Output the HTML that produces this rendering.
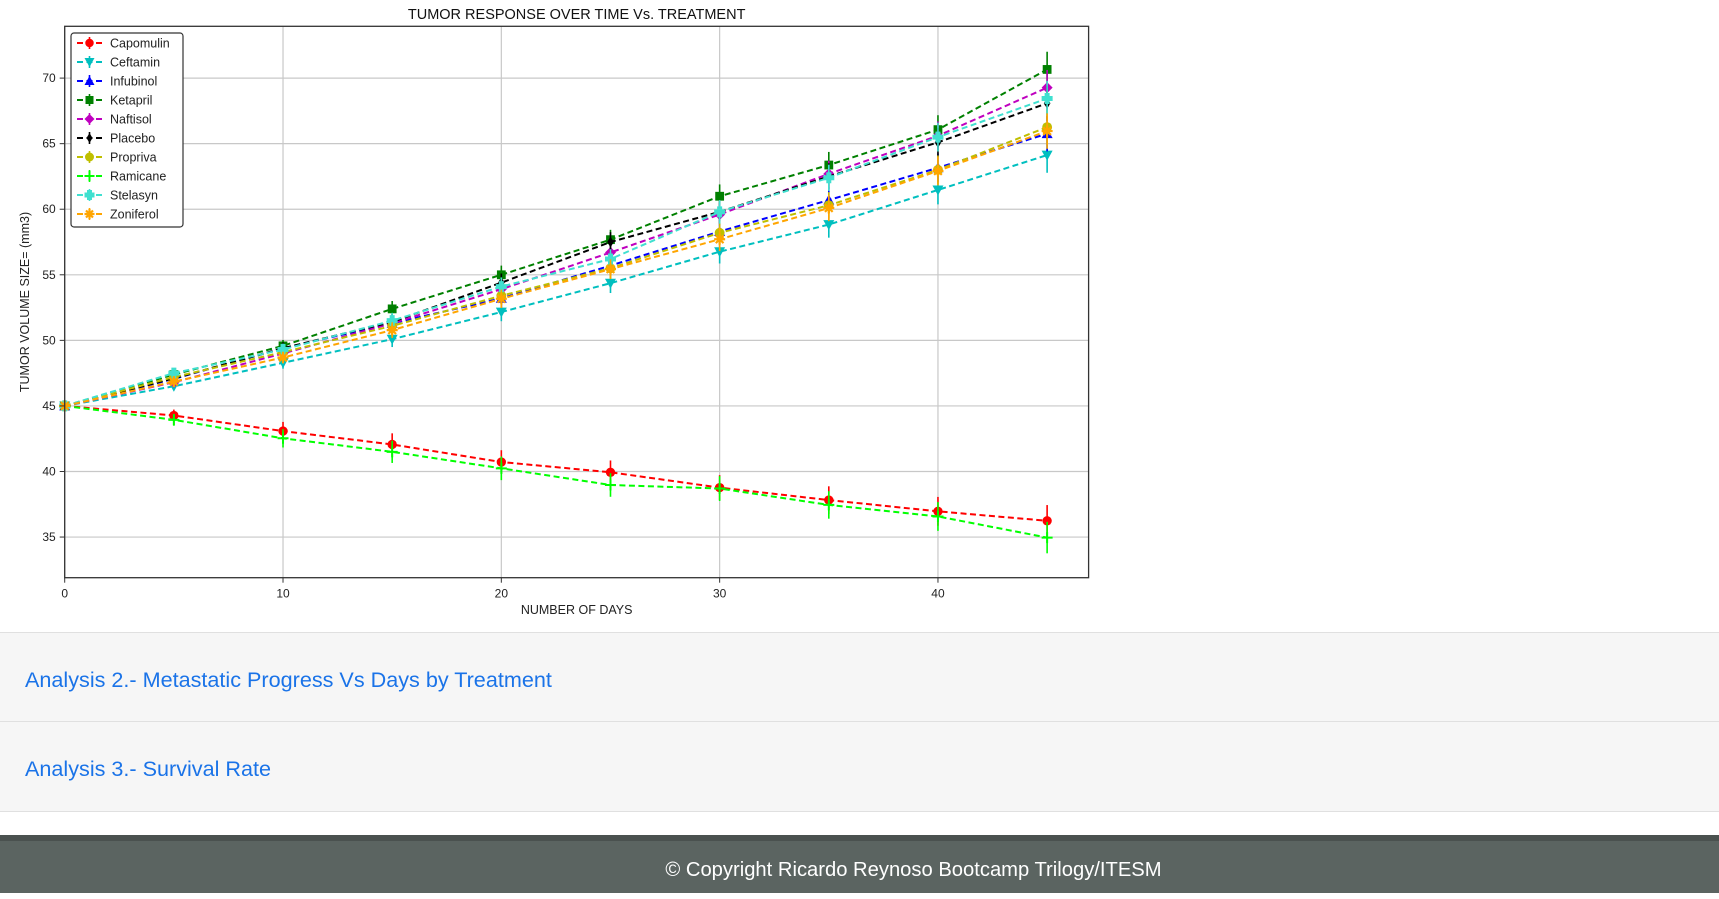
<!DOCTYPE html>
<html><head><meta charset="utf-8">
<style>
html,body{margin:0;padding:0;width:1719px;height:893px;overflow:hidden;background:#fff;font-family:"Liberation Sans","DejaVu Sans",sans-serif;}
#chart{position:absolute;left:0;top:0;}
.sec{position:absolute;left:0;width:1719px;background:#f6f6f6;border-top:1px solid #e0e0e0;}
.sec a{position:absolute;left:25px;color:#1a73e8;text-decoration:none;font-size:21.6px;}
#footer{position:absolute;left:0;top:835px;width:1719px;height:58px;background:#5b6461;border-top:6px solid #4a514f;box-sizing:border-box;color:#fff;font-size:20.2px;text-align:center;line-height:58px;padding-left:108px;}
</style></head><body>
<svg id="chart" width="1100" height="630" xmlns="http://www.w3.org/2000/svg"></svg>
<div class="sec" style="top:632px;height:89px;"><a href="#" style="top:34px;">Analysis 2.- Metastatic Progress Vs Days by Treatment</a></div>
<div class="sec" style="top:721px;height:89px;border-bottom:1px solid #e0e0e0;"><a href="#" style="top:34px;">Analysis 3.- Survival Rate</a></div>
<div id="footer"><span>© Copyright Ricardo Reynoso Bootcamp Trilogy/ITESM</span></div>
<script>
const days = [0,5,10,15,20,25,30,35,40,45];
const names = ["Capomulin","Ceftamin","Infubinol","Ketapril","Naftisol","Placebo","Propriva","Ramicane","Stelasyn","Zoniferol"];
const capomulin = [45,44.27,43.08,42.06,40.72,39.94,38.77,37.82,36.96,36.24];
const ceftamin = [45,46.5,48.29,50.09,52.16,54.36,56.76,58.83,61.47,64.13];
const infubinol = [45,47.06,49.4,51.3,53.2,55.7,58.3,60.7,63.16,65.76];
const ketapril = [45,47.39,49.58,52.4,55.0,57.68,60.99,63.37,66.07,70.66];
const naftisol = [45,46.8,49.0,51.3,53.9,56.7,59.6,62.7,65.6,69.27];
const placebo = [45,47.1,49.4,51.4,54.4,57.5,59.8,62.5,65.1,68.08];
const propriva = [45,47.2,49.1,51.1,53.4,55.5,58.2,60.3,63.0,66.26];
const ramicane = [45,43.94,42.53,41.5,40.24,38.97,38.70,37.45,36.57,34.96];
const stelasyn = [45,47.5,49.3,51.5,54.1,56.2,59.8,62.4,65.5,68.44];
const zoniferol = [45,46.85,48.69,50.78,53.17,55.43,57.71,60.09,62.92,65.96];
const semSmall = [0,0.45,0.7,0.85,0.9,0.9,0.95,1.05,1.1,1.2];
const semBig = [0,0.25,0.45,0.6,0.7,0.75,0.9,1.0,1.1,1.35];
const xTicks = [0,10,20,30,40];
const yTicks = [35,40,45,50,55,60,65,70];
const series=[capomulin,ceftamin,infubinol,ketapril,naftisol,placebo,propriva,ramicane,stelasyn,zoniferol];
const errs=[semSmall,semBig,semBig,semBig,semBig,semBig,semBig,semSmall,semBig,semBig];
const colors=["#ff0000","#00bfbf","#0000ff","#008000","#bf00bf","#000000","#bfbf00","#00ff00","#40e0d0","#ffa500"];
const markers=["o","v","^","s","D","d","h","+","P","*"];
const L=64.7,R=1088.6,T=26.3,B=577.7;
const x=d=>L+(d-0)/(46.9)*(R-L);
const y=v=>B-(v-31.9)/(73.95-31.9)*(B-T);
const svg=document.getElementById('chart');
const NS="http://www.w3.org/2000/svg";
function mk(tag,attrs,parent){const e=document.createElementNS(NS,tag);for(const k in attrs)e.setAttribute(k,attrs[k]);(parent||svg).appendChild(e);return e;}
function txt(s,attrs,parent){const e=mk('text',attrs,parent);e.textContent=s;return e;}
function marker(m,cx,cy,c,g,s){s=s||6;let e;
 if(m==="o")e=mk('circle',{cx,cy,r:s*0.85,fill:c},g);
 else if(m==="v")e=mk('polygon',{points:`${cx-s},${cy-s*0.8} ${cx+s},${cy-s*0.8} ${cx},${cy+s}`,fill:c},g);
 else if(m==="^")e=mk('polygon',{points:`${cx-s},${cy+s*0.8} ${cx+s},${cy+s*0.8} ${cx},${cy-s}`,fill:c},g);
 else if(m==="s")e=mk('rect',{x:cx-s*0.8,y:cy-s*0.8,width:s*1.6,height:s*1.6,fill:c},g);
 else if(m==="D")e=mk('polygon',{points:`${cx},${cy-s} ${cx+s},${cy} ${cx},${cy+s} ${cx-s},${cy}`,fill:c},g);
 else if(m==="d")e=mk('polygon',{points:`${cx},${cy-s} ${cx+s*0.6},${cy} ${cx},${cy+s} ${cx-s*0.6},${cy}`,fill:c},g);
 else if(m==="h")e=mk('circle',{cx,cy,r:s*0.9,fill:c},g);
 else if(m==="+"){e=mk('path',{d:`M${cx-s} ${cy}H${cx+s}M${cx} ${cy-s}V${cy+s}`,stroke:c,'stroke-width':2},g);}
 else if(m==="P")e=mk('path',{d:`M${cx-s} ${cy-2.5}h${s-2.5}v-${s-2.5}h5v${s-2.5}h${s-2.5}v5h-${s-2.5}v${s-2.5}h-5v-${s-2.5}h-${s-2.5}z`,fill:c},g);
 else {e=mk('path',{d:`M${cx-s} ${cy}H${cx+s}M${cx} ${cy-s}V${cy+s}M${cx-s*0.7} ${cy-s*0.7}L${cx+s*0.7} ${cy+s*0.7}M${cx+s*0.7} ${cy-s*0.7}L${cx-s*0.7} ${cy+s*0.7}`,stroke:c,'stroke-width':2.2},g);}
 return e;}
const grid=mk('g',{});


xTicks.forEach(t=>{const l=mk('line',{x1:x(t),x2:x(t),y1:T,y2:B,stroke:'#c8c8c8','stroke-width':1.2},grid);
 
 });
yTicks.forEach(t=>{const l=mk('line',{x1:L,x2:R,y1:y(t),y2:y(t),stroke:'#c8c8c8','stroke-width':1.2},grid);
 
 });
series.forEach((vals,i)=>{const g=mk('g',{});
 
 
 const pts=days.map((d,j)=>x(d)+','+y(vals[j])).join(' ');
 const pl=mk('polyline',{points:pts,fill:'none',stroke:colors[i],'stroke-width':2,'stroke-dasharray':'6,3.5'},g);
 
 
 days.forEach((d,j)=>{const eb=mk('line',{x1:x(d),x2:x(d),y1:y(vals[j]-errs[i][j]),y2:y(vals[j]+errs[i][j]),stroke:colors[i],'stroke-width':1.6},g);
  
  
  const m=marker(markers[i],x(d),y(vals[j]),colors[i],g,5.5);
  
  });});
const fr=mk('rect',{x:L,y:T,width:R-L,height:B-T,fill:'none',stroke:'#333','stroke-width':1.3});


xTicks.forEach(t=>{mk('line',{x1:x(t),x2:x(t),y1:B,y2:B+5,stroke:'#333'});
 const e=txt(String(t),{x:x(t),y:B+20,'font-size':12,'text-anchor':'middle',fill:'#222'});
 
 });
yTicks.forEach(t=>{mk('line',{x1:L-5,x2:L,y1:y(t),y2:y(t),stroke:'#333'});
 const e=txt(String(t),{x:L-9,y:y(t)+4,'font-size':12,'text-anchor':'end',fill:'#222'});
 
 });
const tt=txt('TUMOR RESPONSE OVER TIME Vs. TREATMENT',{x:(L+R)/2,y:19,'font-size':14.5,'text-anchor':'middle',fill:'#111'});


const xt=txt('NUMBER OF DAYS',{x:(L+R)/2,y:614,'font-size':12.5,'text-anchor':'middle',fill:'#222'});


const yt=txt('TUMOR VOLUME SIZE= (mm3)',{x:0,y:0,'font-size':12.5,'text-anchor':'middle',fill:'#222',transform:`translate(29,${(T+B)/2}) rotate(-90)`});


const lg=mk('g',{});


mk('rect',{x:71,y:33,width:112,height:194,rx:3,fill:'#fff',stroke:'#333','stroke-width':1.2},lg);
names.forEach((n,i)=>{const cy=43+i*19;const ge=mk('g',{},lg);
 
 
 mk('line',{x1:77,x2:102,y1:cy,y2:cy,stroke:colors[i],'stroke-width':2,'stroke-dasharray':'6,3.5'},ge);
 mk('line',{x1:89.5,x2:89.5,y1:cy-6,y2:cy+6,stroke:colors[i],'stroke-width':1.6},ge);
 marker(markers[i],89.5,cy,colors[i],ge,5);
 txt(n,{x:110,y:cy+4.5,'font-size':12.5,fill:'#222'},ge);});
</script>
</body></html>
